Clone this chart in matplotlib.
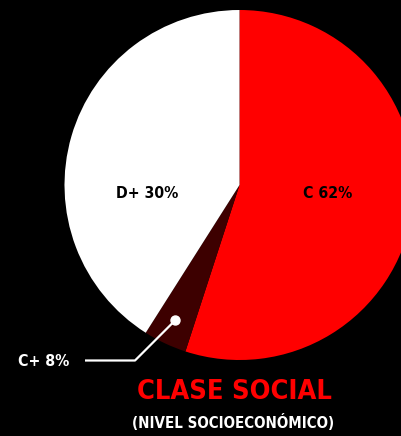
import matplotlib.pyplot as plt
from matplotlib.patches import Circle

# slice sizes as drawn in the picture, labels as printed on it
labels = ["C 62%", "C+ 8%", "D+ 30%"]
sizes = [55, 4, 41]
colors = ["#ff0000", "#3d0000", "#ffffff"]
title = "CLASE SOCIAL"
subtitle = "(NIVEL SOCIOECONÓMICO)"

W, H = 401, 436
font = dict(family="DejaVu Sans", fontstretch="condensed", fontweight="bold")

fig = plt.figure(figsize=(W / 100, H / 100), dpi=100, facecolor="black")
ax = fig.add_axes([0, 0, 1, 1])
ax.set_facecolor("black")

def Y(y):
    return H - y

ax.pie(sizes, colors=colors, startangle=90, counterclock=False,
       center=(239.5, Y(185)), radius=175,
       wedgeprops=dict(linewidth=0))

ax.set_xlim(0, W)
ax.set_ylim(0, H)
ax.set_aspect("equal")
ax.axis("off")

ax.text(328, Y(193), labels[0], color="black", fontsize=11.3, ha="center", va="center", **font)
ax.text(147, Y(193), labels[2], color="black", fontsize=11.3, ha="center", va="center", **font)
ax.text(44, Y(362), labels[1], color="white", fontsize=11.3, ha="center", va="center", **font)

# leader line for C+
ax.plot([85, 135, 175], [Y(360.5), Y(360.5), Y(320.5)], color="white", lw=1.6,
        solid_capstyle="butt")
ax.add_patch(Circle((175.5, Y(320.5)), 4.5, color="white", zorder=5))

ax.text(234, Y(392), title, color="#ff0000", fontsize=19.5, ha="center", va="center", **font)
ax.text(233, Y(422), subtitle, color="white", fontsize=10.8, ha="center", va="center", **font)

fig.savefig("out.png", dpi=100, facecolor="black")
